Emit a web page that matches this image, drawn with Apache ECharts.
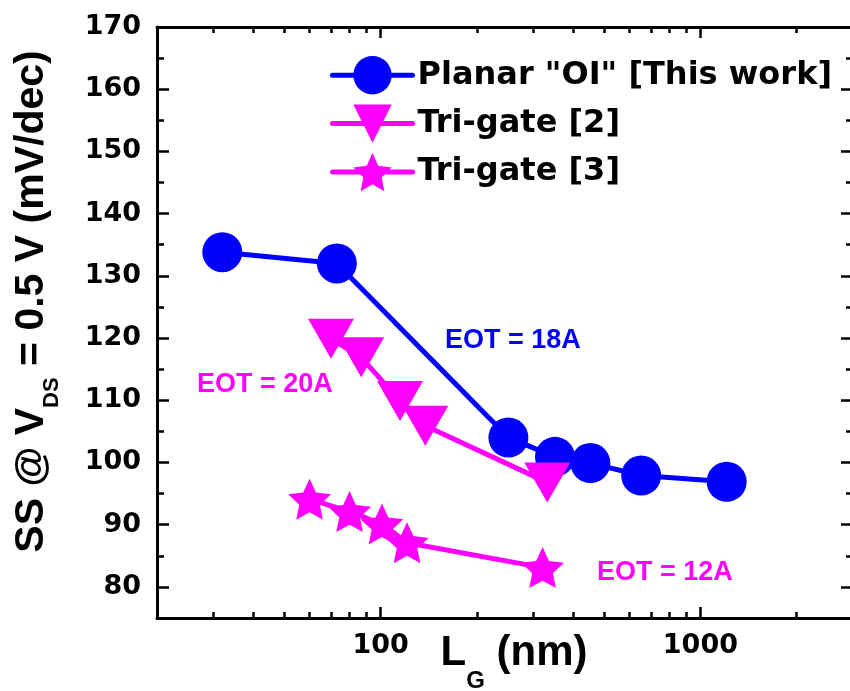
<!DOCTYPE html>
<html>
<head>
<meta charset="utf-8">
<script src="https://cdn.jsdelivr.net/npm/echarts@6/dist/echarts.min.js"></script>
<style>
html,body{margin:0;padding:0;background:#fff;}
#chart{width:850px;height:691px;}
</style>
</head>
<body>
<div id="chart"></div>
<script>
// ---- data ----
const planarName = 'Planar "OI" [This work]';
const triName = 'Tri-gate [2]';
const starName = 'Tri-gate [3]';
const planarX = [32, 73, 251, 351, 453, 653, 1208];
const planarY = [133.8, 132.0, 104.0, 100.9, 99.9, 97.9, 96.9];
const triX = [70, 87, 115, 138, 332];
const triY = [119.9, 116.9, 109.9, 105.9, 96.8];
const starX = [60, 80, 101, 121, 321];
const starY = [94.1, 92.1, 90.1, 87.1, 83.1];
const xMajorTicks = [100, 1000];
const xMinorTicks = [30, 40, 50, 60, 70, 80, 90, 200, 300, 400, 500, 600, 700, 800, 900, 2000];
const yMajorTicks = [80, 90, 100, 110, 120, 130, 140, 150, 160, 170];
const yMinorTicks = [85, 95, 105, 115, 125, 135, 145, 155, 165];
const annotations = [
  {text: 'EOT = 18A', color: '#0000ff'},
  {text: 'EOT = 20A', color: '#ff00ff'},
  {text: 'EOT = 12A', color: '#ff00ff'}
];

const FONT = '"Liberation Sans", Arial, sans-serif';
const WIDEFONT = '"DejaVu Sans", "Liberation Sans", Arial, sans-serif';
const BLUE = '#0000ff', MAG = '#ff00ff';
const starPath = 'path://M50,0 L64.11,30.58 L97.55,34.55 L72.83,57.42 L79.39,90.45 L50,74 L20.61,90.45 L27.17,57.42 L2.45,34.55 L35.89,30.58 Z';
const triDownPath = 'path://M0,0 L100,0 L50,87 Z';
const zip = (xs, ys) => xs.map((x, i) => [x, ys[i]]);

function xAx(pos, ticks, len, showLine, labels) {
  const a = {
    type: 'log', logBase: 10, min: 20, max: 3000, position: pos,
    axisLine: {show: showLine, lineStyle: {color: '#000', width: 3}},
    axisTick: {show: true, inside: true, length: len, customValues: ticks, lineStyle: {color: '#000', width: 2.5}},
    axisLabel: {show: !!labels},
    splitLine: {show: false}, minorTick: {show: false}, minorSplitLine: {show: false}
  };
  if (labels) {
    a.axisLabel = {show: true, customValues: labels, margin: 14, formatter: v => String(Math.round(v)),
      fontFamily: WIDEFONT, fontWeight: 'bold', fontSize: 27, color: '#000'};
  }
  return a;
}
function yAx(pos, ticks, len, showLine, labels) {
  const a = {
    type: 'value', min: 75, max: 170, position: pos,
    axisLine: {show: showLine, lineStyle: {color: '#000', width: 3}},
    axisTick: {show: true, inside: true, length: len, customValues: ticks, lineStyle: {color: '#000', width: 2.5}},
    axisLabel: {show: !!labels},
    splitLine: {show: false}
  };
  if (labels) {
    a.axisLabel = {show: true, customValues: labels, margin: 16, formatter: v => String(v),
      fontFamily: WIDEFONT, fontWeight: 'bold', fontSize: 27, color: '#000'};
  }
  return a;
}

const xMain = xAx('bottom', xMajorTicks, 11, true, xMajorTicks);
xMain.name = '{a|L}{s|G}{a| (nm)}';
xMain.nameLocation = 'middle';
xMain.nameGap = 14;
xMain.nameMoveOverlap = false;
xMain.nameTextStyle = {
  fontFamily: FONT, fontWeight: 'bold', fontSize: 42, color: '#000', padding: [0, 0, 0, 18],
  rich: {
    a: {fontFamily: FONT, fontWeight: 'bold', fontSize: 42, lineHeight: 42, verticalAlign: 'top', color: '#000'},
    s: {fontFamily: FONT, fontWeight: 'bold', fontSize: 24, lineHeight: 24, verticalAlign: 'top', padding: [37, 0, 0, 0], color: '#000'}
  }
};

const yMain = yAx('left', yMajorTicks, 12, true, yMajorTicks);
yMain.name = '{a|SS @ V}{s|DS}{a| = 0.5 V (mV/dec)}';
yMain.nameLocation = 'middle';
yMain.nameRotate = 90;
yMain.nameGap = 105;
yMain.nameMoveOverlap = false;
yMain.nameTextStyle = {
  fontFamily: FONT, fontWeight: 'bold', fontSize: 41, color: '#000', padding: [0, 0, 0, 42],
  rich: {
    a: {fontFamily: FONT, fontWeight: 'bold', fontSize: 41, lineHeight: 41, verticalAlign: 'top', color: '#000'},
    s: {fontFamily: FONT, fontWeight: 'bold', fontSize: 22, lineHeight: 22, verticalAlign: 'top', padding: [30, 0, 0, 0], color: '#000'}
  }
};

const chart = echarts.init(document.getElementById('chart'), null, {renderer: 'canvas'});
const option = {
  backgroundColor: '#fff',
  animation: false,
  grid: {left: 157, right: -3, top: 27, bottom: 73, containLabel: false, outerBoundsMode: 'none'},
  xAxis: [
    xMain,
    xAx('bottom', xMinorTicks, 6, false, null),
    xAx('top', xMajorTicks, 11, true, null),
    xAx('top', xMinorTicks, 6, false, null)
  ],
  yAxis: [
    yMain,
    yAx('left', yMinorTicks, 7, false, null),
    yAx('right', yMajorTicks, 12, true, null),
    yAx('right', yMinorTicks, 7, false, null)
  ],
  legend: {
    orient: 'vertical', left: 325, top: 51, itemGap: 10, itemWidth: 80, itemHeight: 48,
    lineStyle: {width: 5},
    textStyle: {fontFamily: WIDEFONT, fontWeight: 'bold', fontSize: 32, color: '#000'},
    data: [planarName, triName, starName]
  },
  series: [
    {name: planarName, type: 'line', data: zip(planarX, planarY), symbol: 'circle', symbolSize: 40,
     itemStyle: {color: BLUE}, lineStyle: {color: BLUE, width: 5, cap: 'round'}, z: 2},
    {name: triName, type: 'line', data: zip(triX, triY), symbol: triDownPath, symbolSize: [46, 40],
     itemStyle: {color: MAG}, lineStyle: {color: MAG, width: 5, cap: 'round'}, z: 3},
    {name: starName, type: 'line', data: zip(starX, starY), symbol: starPath, symbolSize: [43, 41],
     itemStyle: {color: MAG}, lineStyle: {color: MAG, width: 5, cap: 'round'}, z: 4}
  ],
  graphic: [
    {type: 'text', x: 445, y: 341, style: {text: annotations[0].text, fill: annotations[0].color, font: 'bold 27px ' + FONT, textVerticalAlign: 'middle'}},
    {type: 'text', x: 197, y: 385, style: {text: annotations[1].text, fill: annotations[1].color, font: 'bold 27px ' + FONT, textVerticalAlign: 'middle'}},
    {type: 'text', x: 597, y: 573, style: {text: annotations[2].text, fill: annotations[2].color, font: 'bold 27px ' + FONT, textVerticalAlign: 'middle'}}
  ]
};
chart.setOption(option);
</script>
</body>
</html>
